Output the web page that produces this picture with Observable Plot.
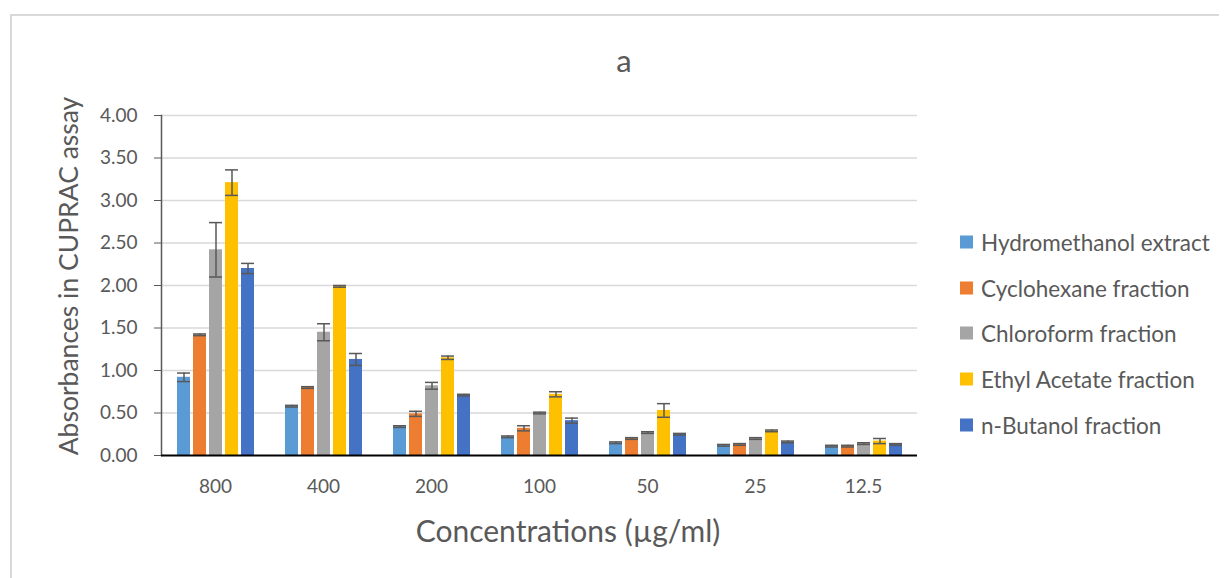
<!DOCTYPE html>
<html>
<head>
<meta charset="utf-8">
<script src="https://cdn.jsdelivr.net/npm/d3@7"></script>
<script src="https://cdn.jsdelivr.net/npm/@observablehq/plot@0.6"></script>
<style>
  html, body { margin: 0; padding: 0; background: #fff; }
  #wrap { position: relative; width: 1231px; height: 578px; overflow: hidden; font-family: Lato, "Open Sans", sans-serif; color: #595959; }
  #border { position: absolute; left: 10px; top: 14px; width: 1209px; height: 600px; border-left: 2px solid #d9d9d9; border-top: 2px solid #d9d9d9; box-sizing: border-box; }
  #chart { position: absolute; left: 0; top: 0; }
  .title { position: absolute; white-space: nowrap; transform: translate(-50%, -50%); }
  #ylab { transform: translate(-50%, -50%) rotate(-90deg); }
  .leg { position: absolute; left: 960px; display: flex; align-items: center; transform: translateY(-50%); font-size: 22.5px; white-space: nowrap; }
  .leg span.sw { display: inline-block; width: 13px; height: 13px; margin-right: 8px; }
</style>
</head>
<body>
<div id="wrap">
  <div id="border"></div>
  <div id="chart"></div>
  <div class="title" id="ttl" style="left:624px; top:60px; font-size:31px;">a</div>
  <div class="title" id="ylab" style="left:68px; top:276px; font-size:26.5px;">Absorbances in CUPRAC assay</div>
  <div class="title" id="xlab" style="left:568px; top:530px; font-size:30px;">Concentrations (µg/ml)</div>
  <div id="legend"></div>
</div>
<script>
const concentrations = ["800", "400", "200", "100", "50", "25", "12.5"];
const seriesNames = ["Hydromethanol extract", "Cyclohexane fraction", "Chloroform fraction", "Ethyl Acetate fraction", "n-Butanol fraction"];
const seriesColors = ["#5B9BD5", "#ED7D31", "#A5A5A5", "#FFC000", "#4472C4"];

const hydromethanol = [0.92, 0.58, 0.34, 0.22, 0.15, 0.12, 0.11];
const hydromethanolErr = [0.05, 0.01, 0.01, 0.01, 0.01, 0.01, 0.01];
const cyclohexane = [1.42, 0.80, 0.49, 0.32, 0.20, 0.13, 0.11];
const cyclohexaneErr = [0.01, 0.01, 0.03, 0.03, 0.01, 0.01, 0.01];
const chloroform = [2.42, 1.45, 0.82, 0.50, 0.27, 0.20, 0.14];
const chloroformErr = [0.32, 0.10, 0.04, 0.01, 0.01, 0.01, 0.01];
const ethylAcetate = [3.21, 1.99, 1.15, 0.72, 0.53, 0.29, 0.17];
const ethylAcetateErr = [0.15, 0.01, 0.02, 0.03, 0.08, 0.01, 0.03];
const butanol = [2.20, 1.13, 0.71, 0.41, 0.25, 0.16, 0.13];
const butanolErr = [0.06, 0.07, 0.01, 0.03, 0.01, 0.01, 0.01];

const yTicks = [0, 0.5, 1, 1.5, 2, 2.5, 3, 3.5, 4];

const valueSets = [hydromethanol, cyclohexane, chloroform, ethylAcetate, butanol];
const errSets = [hydromethanolErr, cyclohexaneErr, chloroformErr, ethylAcetateErr, butanolErr];

const data = [];
concentrations.forEach((c, i) => {
  seriesNames.forEach((s, j) => {
    data.push({conc: c, series: s, value: valueSets[j][i], err: errSets[j][i]});
  });
});

const chart = Plot.plot({
  width: 940,
  height: 578,
  marginLeft: 159,
  marginRight: 22,
  marginTop: 115,
  marginBottom: 123,
  style: {fontFamily: "Lato, 'Open Sans', sans-serif", color: "#595959", background: "transparent"},
  fx: {domain: concentrations, paddingInner: 0, paddingOuter: 0, label: null},
  x: {domain: seriesNames, paddingInner: 0.2, paddingOuter: 0.85, axis: null},
  y: {domain: [0, 4], label: null},
  color: {domain: seriesNames, range: seriesColors},
  marks: [
    Plot.gridY(yTicks.filter(d => d > 0), {stroke: "#d9d9d9", strokeOpacity: 1, strokeWidth: 1.5}),
    Plot.barY(data, {fx: "conc", x: "series", y: "value", fill: "series"}),
    Plot.ruleX(data, {fx: "conc", x: "series", y1: d => d.value - d.err, y2: d => d.value + d.err, stroke: "#595959", strokeWidth: 1.5}),
    Plot.tickY(data, {fx: "conc", x: "series", y: d => d.value + d.err, stroke: "#595959", strokeWidth: 1.5}),
    Plot.tickY(data, {fx: "conc", x: "series", y: d => d.value - d.err, stroke: "#595959", strokeWidth: 1.5}),
    Plot.frame({anchor: "left", facetAnchor: "left", stroke: "#595959", strokeWidth: 1.5}),
    Plot.ruleY([0], {stroke: "#000", strokeWidth: 2}),
    Plot.axisY({ticks: yTicks, tickFormat: d => d.toFixed(2), tickSize: 7, tickPadding: 17, fontSize: 19, color: "#595959", label: null}),
    Plot.axisFx({anchor: "bottom", tickSize: 0, tickPadding: 24, fontSize: 19, color: "#595959", label: null})
  ]
});
document.getElementById("chart").appendChild(chart);

const legendTops = [242, 288, 333, 379, 425];
const legend = document.getElementById("legend");
seriesNames.forEach((s, j) => {
  const row = document.createElement("div");
  row.className = "leg";
  row.style.top = legendTops[j] + "px";
  const sw = document.createElement("span");
  sw.className = "sw";
  sw.style.background = seriesColors[j];
  row.appendChild(sw);
  row.appendChild(document.createTextNode(s));
  legend.appendChild(row);
});
</script>
</body>
</html>
